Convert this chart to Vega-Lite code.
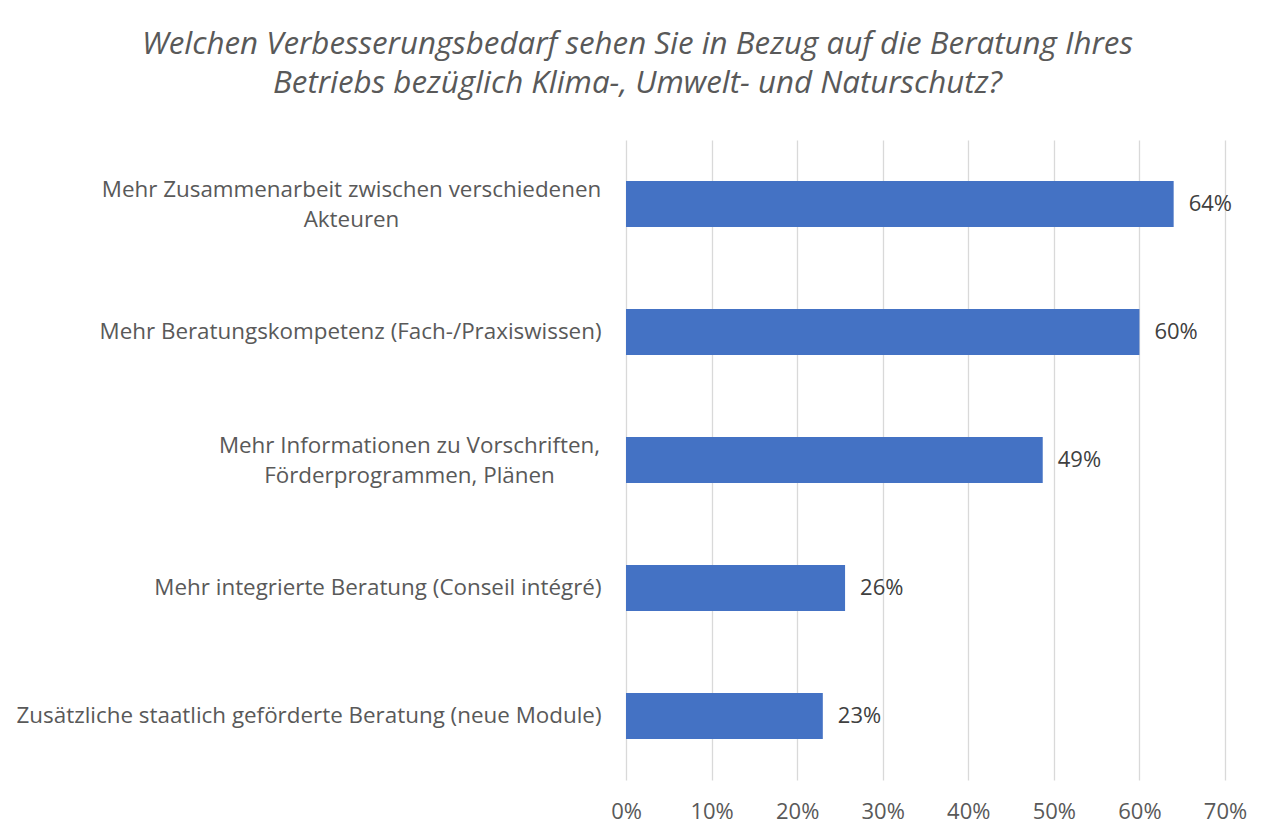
{
  "$schema": "https://vega.github.io/schema/vega-lite/v6.json",
  "autosize": {"type": "none"},
  "padding": {"left": 626, "top": 140, "right": 44, "bottom": 54},
  "width": 599,
  "height": 640,
  "background": "white",
  "title": {
    "text": ["Welchen Verbesserungsbedarf sehen Sie in Bezug auf die Beratung Ihres", "Betriebs bezüglich Klima-, Umwelt- und Naturschutz?"],
    "anchor": "middle",
    "frame": "group",
    "dx": -288,
    "offset": 41,
    "font": "Open Sans",
    "fontStyle": "italic",
    "fontWeight": "normal",
    "fontSize": 31.3,
    "lineHeight": 39,
    "color": "#595959"
  },
  "data": {
    "values": [
      {"item": "Mehr Zusammenarbeit zwischen verschiedenen Akteuren", "value": 0.64, "label": "64%"},
      {"item": "Mehr Beratungskompetenz (Fach-/Praxiswissen)", "value": 0.60, "label": "60%"},
      {"item": "Mehr Informationen zu Vorschriften, Förderprogrammen, Plänen", "value": 0.487, "label": "49%"},
      {"item": "Mehr integrierte Beratung (Conseil intégré)", "value": 0.256, "label": "26%"},
      {"item": "Zusätzliche staatlich geförderte Beratung (neue Module)", "value": 0.23, "label": "23%"}
    ]
  },
  "encoding": {
    "y": {
      "field": "item",
      "type": "nominal",
      "sort": null,
      "title": null,
      "scale": {"paddingInner": 0.64, "paddingOuter": 0.32},
      "axis": {
        "domain": false,
        "ticks": false,
        "grid": false,
        "labelFont": "Open Sans",
        "labelFontSize": 22.4,
        "labelColor": "#595959",
        "labelLimit": 700,
        "labelLineHeight": 30,
        "labelAlign": {"condition": {"test": "indexof(datum.value, 'Akteuren') >= 0 || indexof(datum.value, 'Plänen') >= 0", "value": "center"}, "value": "right"},
        "labelPadding": {"condition": [{"test": "indexof(datum.value, 'Akteuren') >= 0", "value": 275}, {"test": "indexof(datum.value, 'Plänen') >= 0", "value": 217}], "value": 25},
        "labelOffset": {"condition": {"test": "indexof(datum.value, 'Akteuren') >= 0 || indexof(datum.value, 'Plänen') >= 0", "value": -14}, "value": 0},
        "labelExpr": "datum.value == 'Mehr Zusammenarbeit zwischen verschiedenen Akteuren' ? ['Mehr Zusammenarbeit zwischen verschiedenen', 'Akteuren'] : datum.value == 'Mehr Informationen zu Vorschriften, Förderprogrammen, Plänen' ? ['Mehr Informationen zu Vorschriften,', 'Förderprogrammen, Plänen'] : datum.value"
      }
    },
    "x": {
      "field": "value",
      "type": "quantitative",
      "title": null,
      "scale": {"domain": [0, 0.7], "nice": false},
      "axis": {
        "format": ".0%",
        "values": [0, 0.1, 0.2, 0.3, 0.4, 0.5, 0.6, 0.7],
        "domain": false,
        "ticks": false,
        "grid": true,
        "gridColor": "#d9d9d9",
        "gridWidth": 1.3,
        "labelFlush": false,
        "labelOverlap": false,
        "labelFont": "Open Sans",
        "labelFontSize": 22,
        "labelColor": "#595959",
        "labelPadding": 21
      }
    }
  },
  "layer": [
    {"mark": {"type": "bar", "color": "#4472C4"}},
    {
      "mark": {"type": "text", "align": "left", "dx": 15, "font": "Open Sans", "fontSize": 22, "color": "#404040"},
      "encoding": {"text": {"field": "label"}}
    }
  ],
  "config": {"view": {"stroke": null}}
}
